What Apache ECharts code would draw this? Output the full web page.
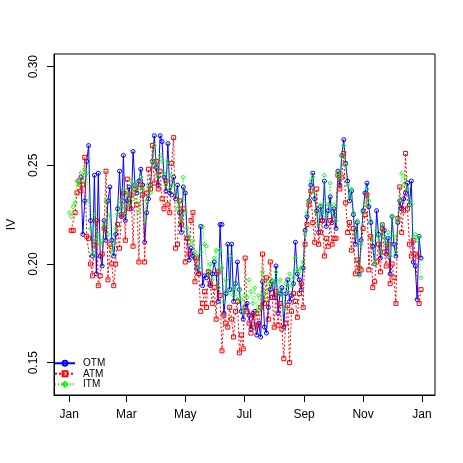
<!DOCTYPE html>
<html>
<head>
<meta charset="utf-8">
<script src="https://cdn.jsdelivr.net/npm/echarts@6/dist/echarts.min.js"></script>
<style>
html,body{margin:0;padding:0;background:#fff;}
#chart{width:463px;height:463px;}
</style>
</head>
<body>
<div id="chart"></div>
<script>
// Day of year (0 = 1 Jan) for each observation
const days = [
0,2,4,6,8,10,12,14,16,18,20,22,24,26,28,30,32,34,36,38,
40,42,44,46,48,50,52,54,56,58,60,62,64,66,68,70,72,74,76,78,
80,82,84,86,88,90,92,94,96,98,100,102,104,106,108,110,112,114,116,118,
120,122,124,126,128,130,132,134,136,138,140,142,144,146,148,150,152,154,156,158,
160,162,164,166,168,170,172,174,176,178,180,182,184,186,188,190,192,194,196,198,
200,202,204,206,208,210,212,214,216,218,220,222,224,226,228,230,232,234,236,238,
240,242,244,246,248,250,252,254,256,258,260,262,264,266,268,270,272,274,276,278,
280,282,284,286,288,290,292,294,296,298,300,302,304,306,308,310,312,314,316,318,
320,322,324,326,328,330,332,334,336,338,340,342,344,346,348,350,352,354,356,358,
360,362,364
];

const otm = [
null,null,null,null,null, null,0.244,0.215,0.232,0.252,
0.260,0.222,0.204,0.245,0.195, 0.246,0.204,0.199,0.222,0.212,
0.232,0.239,0.212,0.204,0.215, 0.228,0.247,0.224,0.255,0.222,
0.232,0.239,0.228,0.257,0.240, 0.236,0.242,0.248,0.240,0.211,
0.226,0.233,0.240,0.252,0.265, 0.249,0.240,0.265,0.262,0.244,
0.237,0.261,0.236,0.235,0.244, 0.233,0.240,0.226,0.216,0.239,
0.236,0.213,0.202,0.208,0.204, 0.203,0.198,0.195,0.219,0.189,
0.194,0.193,0.196,0.189,0.195, 0.201,0.195,0.181,0.220,0.220,
0.175,0.185,0.210,0.187,0.210, 0.181,0.190,0.201,0.187,0.176,
0.172,0.178,0.180,0.174,0.167, 0.175,0.176,0.164,0.170,0.163,
0.191,0.168,0.165,0.178,0.187, 0.191,0.183,0.199,0.175,0.185,
0.188,0.168,0.185,0.192,0.181, 0.184,0.190,0.211,0.195,0.192,
0.187,0.198,0.217,0.224,0.232, 0.240,0.246,0.233,0.227,0.216,
0.229,0.222,0.242,0.219,0.227, 0.234,0.221,0.228,0.218,0.247,
0.240,0.255,0.263,0.251,0.242, 0.232,0.237,0.225,0.210,0.221,
0.195,0.212,0.227,0.236,0.241, 0.229,0.221,0.209,0.200,0.227,
0.215,0.203,0.220,0.217,0.205, 0.213,0.195,0.224,0.210,0.204,
0.221,0.232,0.228,0.233,0.236, 0.241,0.230,0.242,0.201,0.199,
0.182,0.214,0.203
];

const atm = [
null,0.217,0.217,0.226,0.236, 0.242,0.237,0.240,0.254,0.214,
0.213,0.200,0.194,0.210,0.222, 0.189,0.194,0.205,0.218,0.247,
0.192,0.210,0.200,0.189,0.200, 0.220,0.208,0.225,0.236,0.212,
0.243,0.228,0.235,0.209,0.238, 0.230,0.201,0.240,0.235,0.201,
0.236,0.248,0.238,0.260,0.241, 0.252,0.238,0.247,0.233,0.228,
0.242,0.230,0.226,0.251,0.264, 0.208,0.210,0.232,0.220,0.228,
0.201,0.213,0.205,0.222,0.226, 0.191,0.203,0.195,0.176,0.180,
0.186,0.178,0.196,0.190,0.180, 0.188,0.172,0.196,0.184,0.156,
0.174,0.170,0.168,0.178,0.172, 0.163,0.176,0.181,0.155,0.164,
0.157,0.203,0.176,0.170,0.165, 0.174,0.168,0.175,0.169,0.178,
0.205,0.180,0.193,0.172,0.201, 0.183,0.168,0.186,0.169,0.180,
0.167,0.152,0.170,0.179,0.150, 0.176,0.185,0.181,0.173,0.185,
0.190,0.178,0.210,0.220,0.230, 0.237,0.221,0.211,0.238,0.210,
0.216,0.222,0.204,0.213,0.209, 0.222,0.210,0.213,0.213,0.245,
0.238,0.244,0.256,0.231,0.216, 0.221,0.207,0.218,0.195,0.202,
0.198,0.197,0.218,0.225,0.235, 0.197,0.214,0.188,0.191,0.201,
0.210,0.196,0.218,0.206,0.199, 0.210,0.190,0.200,0.193,0.180,
0.223,0.239,0.216,0.227,0.256, 0.228,0.210,0.204,0.212,0.205,
0.204,0.180,0.187
];

const itm = [
0.226,0.224,0.229,0.231,0.242, 0.240,0.246,0.242,0.248,0.246,
0.232,0.218,0.205,0.225,0.212, 0.215,0.210,0.212,0.220,0.232,
0.215,0.225,0.206,0.210,0.218, 0.225,0.232,0.228,0.238,0.225,
0.236,0.230,0.242,0.233,0.240, 0.238,0.226,0.244,0.238,0.222,
0.232,0.240,0.236,0.252,0.260, 0.250,0.244,0.255,0.252,0.246,
0.240,0.252,0.238,0.245,0.240, 0.236,0.228,0.232,0.222,0.244,
0.226,0.218,0.214,0.210,0.212, 0.206,0.204,0.198,0.206,0.219,
0.210,0.209,0.196,0.200,0.192, 0.203,0.207,0.188,0.207,0.198,
0.181,0.192,0.185,0.204,0.187, 0.184,0.190,0.182,0.187,0.182,
0.176,0.184,0.183,0.192,0.186, 0.180,0.188,0.176,0.184,0.178,
0.196,0.185,0.182,0.191,0.188, 0.192,0.190,0.196,0.186,0.192,
0.184,0.177,0.190,0.186,0.195, 0.189,0.193,0.203,0.197,0.196,
0.198,0.201,0.215,0.226,0.232, 0.242,0.244,0.236,0.226,0.220,
0.230,0.226,0.245,0.224,0.230, 0.241,0.226,0.230,0.222,0.246,
0.244,0.255,0.260,0.250,0.240, 0.234,0.238,0.226,0.215,0.222,
0.194,0.210,0.226,0.230,0.238, 0.232,0.222,0.212,0.200,0.217,
0.214,0.206,0.220,0.214,0.210, 0.216,0.204,0.224,0.214,0.206,
0.222,0.232,0.246,0.240,0.244, 0.238,0.232,0.230,0.214,0.215,
0.212,0.214,0.193
];

const monthTickDays = [0, 59, 120, 181, 243, 304, 365];
const monthTickLabels = ['Jan', 'Mar', 'May', 'Jul', 'Sep', 'Nov', 'Jan'];
const yTicks = [0.15, 0.20, 0.25, 0.30];

const FONT = 'Liberation Sans, Arial, Helvetica, sans-serif';

function pairs(vals) {
  return days.map((d, i) => [d, vals[i]]);
}

function mkSeries(name, vals, color, symbol, dash, z) {
  return {
    name: name,
    type: 'line',
    data: pairs(vals),
    symbol: symbol,
    symbolSize: 4,
    showSymbol: true,
    z: z,
    itemStyle: { color: 'rgba(255,255,255,0)', borderColor: color, borderWidth: 1 },
    lineStyle: { color: color, width: 1, type: dash },
    emphasis: { disabled: true },
    connectNulls: false
  };
}

const chart = echarts.init(document.getElementById('chart'), null, { renderer: 'canvas' });
chart.setOption({
  animation: false,
  backgroundColor: '#fff',
  grid: {
    left: 54, top: 54, right: 28, bottom: 68,
    containLabel: false,
    outerBoundsMode: 'none',
    show: true, borderColor: '#000', borderWidth: 1,
    backgroundColor: 'rgba(0,0,0,0)'
  },
  xAxis: {
    type: 'value',
    position: 'bottom',
    min: -15.83, max: 378.45,
    axisLine: { show: true, onZero: false, lineStyle: { color: '#000', width: 1 } },
    splitLine: { show: false },
    axisTick: { show: true, inside: false, length: 7, lineStyle: { color: '#000' }, customValues: monthTickDays },
    axisLabel: {
      customValues: monthTickDays,
      margin: 14,
      fontSize: 12, color: '#000', fontFamily: FONT,
      formatter: function (v) {
        const i = monthTickDays.indexOf(v);
        return i >= 0 ? monthTickLabels[i] : '';
      }
    }
  },
  yAxis: {
    type: 'value',
    position: 'left',
    min: 0.1336, max: 0.3064,
    name: 'IV', nameLocation: 'middle', nameGap: 36, nameRotate: 90,
    nameTextStyle: { fontSize: 12, color: '#000', fontFamily: FONT },
    axisLine: { show: true, onZero: false, lineStyle: { color: '#000', width: 1 } },
    splitLine: { show: false },
    axisTick: { show: true, inside: false, length: 7, lineStyle: { color: '#000' }, customValues: yTicks },
    axisLabel: {
      customValues: yTicks,
      rotate: 90,
      margin: 14,
      fontSize: 12, color: '#000', fontFamily: FONT,
      formatter: function (v) { return v.toFixed(2); }
    }
  },
  legend: {
    data: ['OTM', 'ATM', 'ITM'],
    orient: 'vertical',
    left: 54, top: 358,
    padding: 0,
    itemWidth: 20, itemHeight: 6, itemGap: 0,
    textStyle: { fontSize: 10, color: '#000', fontFamily: FONT, lineHeight: 10.5, padding: [0, 0, 0, 3] },
    selectedMode: false
  },
  series: [
    mkSeries('OTM', otm, '#0000FF', 'circle', 'solid', 2),
    mkSeries('ATM', atm, '#FF0000', 'rect', [2, 2], 3),
    mkSeries('ITM', itm, '#00FF00', 'diamond', [1, 2], 4)
  ]
});
</script>
</body>
</html>
